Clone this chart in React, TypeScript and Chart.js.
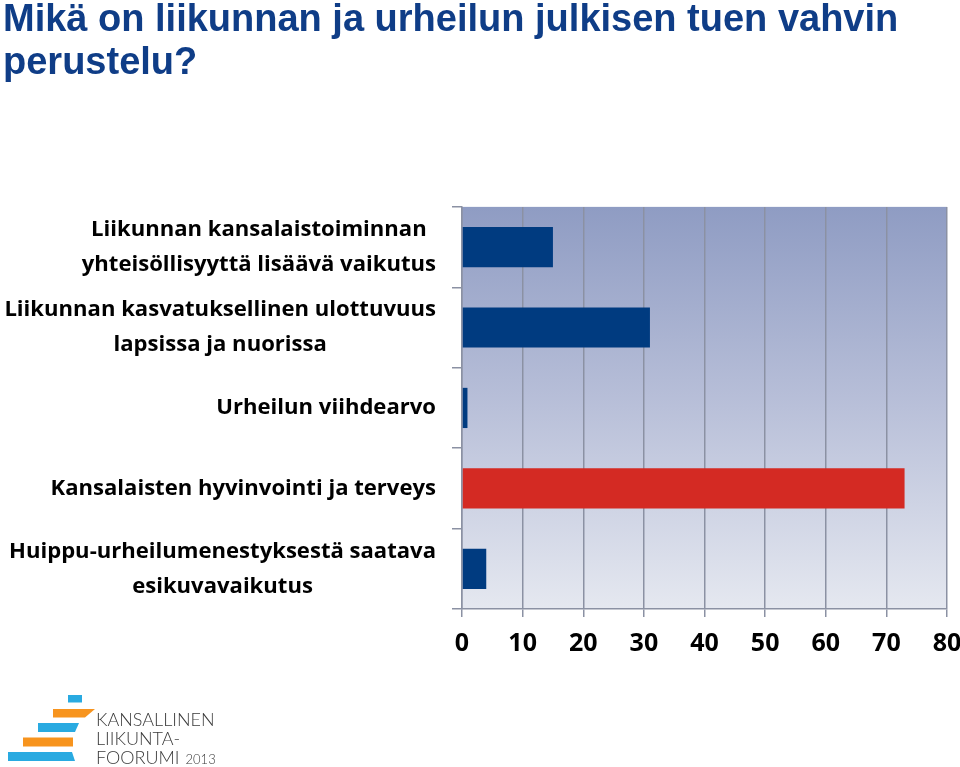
import { useEffect, useRef } from "react";
import { Chart, registerables } from "chart.js";

Chart.register(...registerables);

// ---- data ----
const TITLE_LINES = ["Mikä on liikunnan ja urheilun julkisen tuen vahvin", "perustelu?"];

const CATEGORY_LINES: string[][] = [
  ["Liikunnan kansalaistoiminnan", "yhteisöllisyyttä lisäävä vaikutus"],
  ["Liikunnan kasvatuksellinen ulottuvuus", "lapsissa ja nuorissa"],
  ["Urheilun viihdearvo"],
  ["Kansalaisten hyvinvointi ja terveys"],
  ["Huippu-urheilumenestyksestä saatava", "esikuvavaikutus"],
];

const VALUES = [15, 31, 0.9, 73, 4];

const BAR_COLORS = ["#003b80", "#003b80", "#003b80", "#d42a23", "#003b80"];

const X_MIN = 0;
const X_MAX = 80;
const X_STEP = 10;

const LOGO_LINES = ["KANSALLINEN", "LIIKUNTA-", "FOORUMI"];
const LOGO_YEAR = "2013";

const GRID_COLOR = "#8b91a3";
const LABEL_FONT = "'Open Sans', 'DejaVu Sans', sans-serif";

export default function App() {
  const ref = useRef<HTMLCanvasElement>(null);

  useEffect(() => {
    const canvas = ref.current;
    if (!canvas) return;

    const bgPlugin = {
      id: "plotBg",
      beforeDraw(chart: any) {
        const { ctx, chartArea: a } = chart;
        const g = ctx.createLinearGradient(0, a.top, 0, a.bottom);
        g.addColorStop(0, "#8f9cc3");
        g.addColorStop(0.5, "#b9c0d9");
        g.addColorStop(1, "#e5e8f0");
        ctx.save();
        ctx.fillStyle = g;
        ctx.fillRect(a.left, a.top, a.right - a.left, a.bottom - a.top);
        ctx.restore();
      },
    };

    const labelPlugin = {
      id: "catLabels",
      afterDraw(chart: any) {
        const ctx = chart.ctx;
        const yScale = chart.scales.y;
        const right = chart.chartArea.left - 26;
        ctx.save();
        ctx.font = `bold 100px ${LABEL_FONT}`;
        let widest = 0;
        CATEGORY_LINES.forEach((ls) =>
          ls.forEach((l) => {
            widest = Math.max(widest, ctx.measureText(l).width);
          })
        );
        const size = (100 * (right - 4)) / widest;
        ctx.font = `bold ${size}px ${LABEL_FONT}`;
        ctx.fillStyle = "#000";
        ctx.textAlign = "center";
        ctx.textBaseline = "middle";
        const lh = 35;
        CATEGORY_LINES.forEach((ls, i) => {
          const cy = yScale.getPixelForValue(i);
          const bw = Math.max(...ls.map((l) => ctx.measureText(l).width));
          const cx = right - bw / 2;
          ls.forEach((l, j) => {
            ctx.fillText(l, cx, cy + (j - (ls.length - 1) / 2) * lh);
          });
        });
        ctx.restore();
      },
    };

    const logoPlugin = {
      id: "logo",
      afterDraw(chart: any) {
        const ctx = chart.ctx;
        const cyan = "#29aae1";
        const orange = "#f7941e";
        const stripes: { c: string; p: number[][] }[] = [
          { c: cyan, p: [[68, 695], [82, 695], [82, 702.5], [68, 702.5]] },
          { c: orange, p: [[53, 709], [95, 709], [85, 717.5], [53, 717.5]] },
          { c: cyan, p: [[38, 723], [79, 723], [75, 732], [38, 732]] },
          { c: orange, p: [[23, 737.5], [73, 737.5], [73, 746.5], [23, 746.5]] },
          { c: cyan, p: [[8, 752], [72, 752], [75, 761], [8, 761]] },
        ];
        ctx.save();
        stripes.forEach((s) => {
          ctx.beginPath();
          s.p.forEach(([x, y], k) => (k === 0 ? ctx.moveTo(x, y) : ctx.lineTo(x, y)));
          ctx.closePath();
          ctx.fillStyle = s.c;
          ctx.fill();
        });
        ctx.fillStyle = "#3a3a3a";
        ctx.textAlign = "left";
        ctx.textBaseline = "alphabetic";
        ctx.font = "300 18px Lato, 'Open Sans', sans-serif";
        const baselines = [726, 745, 763.5];
        LOGO_LINES.forEach((t, i) => ctx.fillText(t, 96, baselines[i]));
        const w = ctx.measureText(LOGO_LINES[2]).width;
        ctx.font = "300 13px Lato, 'Open Sans', sans-serif";
        ctx.fillText(LOGO_YEAR, 96 + w + 6, 763.5);
        ctx.restore();
      },
    };

    const chart = new Chart(canvas, {
      type: "bar",
      data: {
        labels: CATEGORY_LINES.map((l) => l.join(" ")),
        datasets: [
          {
            data: VALUES,
            backgroundColor: BAR_COLORS,
            borderWidth: 0,
            barPercentage: 0.5,
            categoryPercentage: 1,
          },
        ],
      },
      options: {
        indexAxis: "y",
        responsive: false,
        animation: false,
        layout: { padding: { left: 3, right: 13, top: 0, bottom: 0 } },
        plugins: {
          legend: { display: false },
          tooltip: { enabled: false },
          title: {
            display: true,
            text: TITLE_LINES,
            align: "start",
            color: "#0f3d87",
            font: {
              family: "'Liberation Sans', Arial, sans-serif",
              size: 38,
              weight: "bold",
              lineHeight: 1.13,
            },
            padding: { top: -1, bottom: 122 },
          },
        },
        scales: {
          x: {
            type: "linear",
            position: "bottom",
            min: X_MIN,
            max: X_MAX,
            ticks: {
              stepSize: X_STEP,
              color: "#000",
              padding: 12,
              font: { family: LABEL_FONT, size: 25, weight: "bold" },
            },
            grid: {
              color: GRID_COLOR,
              tickColor: GRID_COLOR,
              lineWidth: 1.5,
              tickLength: 8,
              drawTicks: true,
            },
            border: { display: true, color: GRID_COLOR, width: 1.5 },
            afterFit(scale: any) {
              scale.height = 158;
              scale.paddingLeft = 0;
              scale.paddingRight = 0;
            },
          },
          y: {
            type: "category",
            position: "left",
            ticks: { display: false },
            grid: {
              offset: true,
              drawOnChartArea: false,
              drawTicks: true,
              tickLength: 10,
              color: GRID_COLOR,
              tickColor: GRID_COLOR,
              lineWidth: 1.5,
            },
            border: { display: true, color: GRID_COLOR, width: 1.5 },
            afterFit(scale: any) {
              scale.width = 459;
              scale.paddingTop = 0;
              scale.paddingBottom = 0;
            },
          },
        },
      },
      plugins: [bgPlugin, labelPlugin, logoPlugin],
    } as any);

    return () => chart.destroy();
  }, []);

  return (
    <div style={{ position: "fixed", left: 0, top: 0, width: 960, height: 767, background: "#fff" }}>
      <canvas ref={ref} width={960} height={767} style={{ display: "block", width: 960, height: 767 }} />
    </div>
  );
}
